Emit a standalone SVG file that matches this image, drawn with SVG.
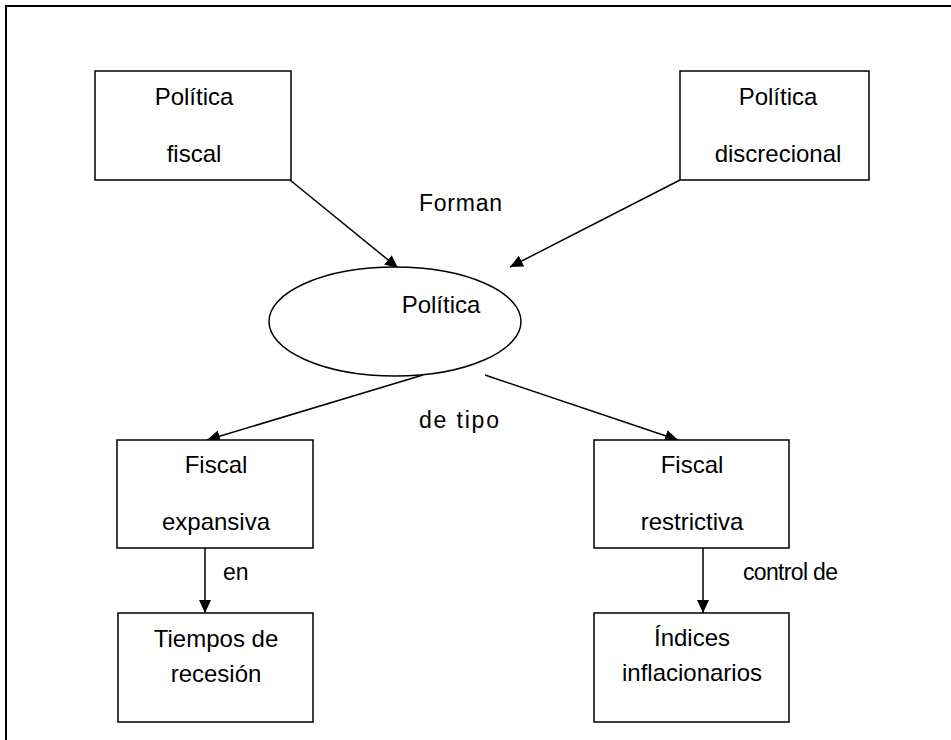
<svg xmlns="http://www.w3.org/2000/svg" width="951" height="740" viewBox="0 0 951 740">
<defs>
<style>
.box{fill:#fff;stroke:#000;stroke-width:1.5}
.t{font-family:"Liberation Sans",Arial,sans-serif;font-size:24px;fill:#000;text-anchor:middle}
.l{font-family:"Liberation Sans",Arial,sans-serif;font-size:23px;fill:#000}
.c{stroke:#000;stroke-width:1.5;fill:none;marker-end:url(#ah)}
</style>
<marker id="ah" viewBox="0 0 13 12" refX="13" refY="6" markerWidth="13" markerHeight="12" markerUnits="userSpaceOnUse" orient="auto">
<path d="M0,0 L13,6 L0,12 Z" fill="#000"/>
</marker>
</defs>
<rect width="951" height="740" fill="#fff"/>
<path d="M6,740 V6 H951" fill="none" stroke="#000" stroke-width="2"/>
<g id="connectors">
<line class="c" x1="290" y1="180" x2="398" y2="268"/>
<line class="c" x1="680" y1="180" x2="510" y2="267"/>
<line class="c" x1="423" y1="375" x2="207" y2="440"/>
<line class="c" x1="485" y1="375" x2="678" y2="440"/>
<line class="c" x1="205" y1="548" x2="205" y2="613"/>
<line class="c" x1="703" y1="548" x2="703" y2="613"/>
<text class="l" x="419" y="211" textLength="83">Forman</text>
<text class="l" x="419" y="428" textLength="80">de tipo</text>
<text class="l" x="223" y="580">en</text>
<text class="l" x="743" y="580" textLength="95">control de</text>
</g>
<g id="n-fiscal">
<rect class="box" x="95" y="71" width="196" height="109"/>
<text class="t" x="194" y="105">Política</text>
<text class="t" x="194" y="162">fiscal</text>
</g>
<g id="n-discrecional">
<rect class="box" x="680" y="71" width="189" height="109"/>
<text class="t" x="778" y="105">Política</text>
<text class="t" x="778" y="162">discrecional</text>
</g>
<g id="n-politica">
<ellipse class="box" cx="395" cy="321.5" rx="126" ry="54.5"/>
<text class="t" x="441" y="313">Política</text>
</g>
<g id="n-expansiva">
<rect class="box" x="117" y="440" width="196" height="108"/>
<text class="t" x="216" y="473">Fiscal</text>
<text class="t" x="216" y="530">expansiva</text>
</g>
<g id="n-restrictiva">
<rect class="box" x="594" y="440" width="195" height="108"/>
<text class="t" x="692" y="473">Fiscal</text>
<text class="t" x="692" y="530">restrictiva</text>
</g>
<g id="n-recesion">
<rect class="box" x="118" y="613" width="195" height="109"/>
<text class="t" x="216" y="647">Tiempos de</text>
<text class="t" x="216" y="682">recesión</text>
</g>
<g id="n-indices">
<rect class="box" x="594" y="613" width="195" height="109"/>
<text class="t" x="692" y="646">Índices</text>
<text class="t" x="692" y="681">inflacionarios</text>
</g>
</svg>
